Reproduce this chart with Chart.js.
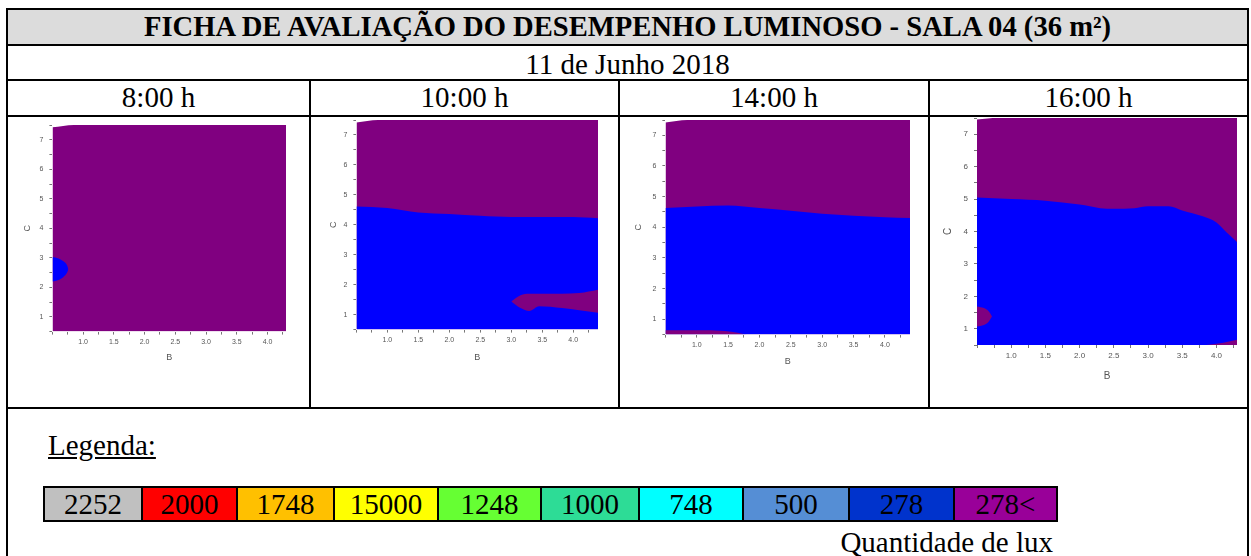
<!DOCTYPE html>
<html lang="pt-BR">
<head>
<meta charset="utf-8">
<title>Ficha de avaliação do desempenho luminoso - Sala 04</title>
<script src="https://cdn.jsdelivr.net/npm/chart.js@4.4.1/dist/chart.umd.min.js"></script>
<style>
  body { margin: 0; width: 1251px; height: 556px; overflow: hidden; background: #fff;
         font-family: "Liberation Serif", "Times New Roman", serif; color: #000; }
  .linha { position: absolute; background: #000; }
  .texto { position: absolute; text-align: center; font-size: 29px; line-height: 35px; white-space: nowrap; }
  #titulo { position: absolute; left: 8px; top: 10px; width: 1239px; height: 34px; background: #dcdcdc;
            text-align: center; font-weight: bold; font-size: 28.6px; line-height: 34px; white-space: nowrap; }
  #legenda-titulo { position: absolute; left: 48px; top: 431px; font-size: 29px; line-height: 29px; text-decoration: underline; }
  .faixa { position: absolute; box-sizing: border-box; top: 486px; height: 36px; border: 2px solid #000;
           font-size: 29px; line-height: 33px; text-align: center; }
  #unidade { position: absolute; right: 198px; top: 528px; font-size: 29px; line-height: 29px; white-space: nowrap; }
  .painel { position: absolute; }
  .painel canvas { display: block; filter: blur(0.4px); }
</style>
</head>
<body>

<div id="titulo">FICHA DE AVALIAÇÃO DO DESEMPENHO LUMINOSO - SALA 04 (36 m²)</div>
<div class="texto" style="left:8px; top:47px; width:1239px;">11 de Junho 2018</div>
<div class="texto" style="left:8px;   top:80px; width:301px;">8:00 h</div>
<div class="texto" style="left:311px; top:80px; width:307px;">10:00 h</div>
<div class="texto" style="left:620px; top:80px; width:308px;">14:00 h</div>
<div class="texto" style="left:930px; top:80px; width:317px;">16:00 h</div>

<!-- grade da ficha -->
<div class="linha" style="left:6px; top:8px; width:1243px; height:2px;"></div>
<div class="linha" style="left:6px; top:8px; width:2px; height:560px;"></div>
<div class="linha" style="left:1247px; top:8px; width:2px; height:560px;"></div>
<div class="linha" style="left:6px; top:44px; width:1243px; height:2px;"></div>
<div class="linha" style="left:6px; top:79px; width:1243px; height:2px;"></div>
<div class="linha" style="left:6px; top:115px; width:1243px; height:2px;"></div>
<div class="linha" style="left:6px; top:407px; width:1243px; height:2px;"></div>
<div class="linha" style="left:309px; top:80px; width:2px; height:328px;"></div>
<div class="linha" style="left:618px; top:80px; width:2px; height:328px;"></div>
<div class="linha" style="left:928px; top:80px; width:2px; height:328px;"></div>

<div class="painel" id="p08"><canvas id="g08"></canvas></div>
<div class="painel" id="p10"><canvas id="g10"></canvas></div>
<div class="painel" id="p14"><canvas id="g14"></canvas></div>
<div class="painel" id="p16"><canvas id="g16"></canvas></div>

<div id="legenda-titulo">Legenda:</div>
<div id="faixas"></div>
<div id="unidade">Quantidade de lux</div>

<script>
// faixas de iluminância (lux) da legenda
const faixasLux = ["2252", "2000", "1748", "15000", "1248", "1000", "748", "500", "278", "278<"];
const coresFaixas = ["#c0c0c0", "#ff0000", "#ffc000", "#ffff00", "#66ff33", "#2ddc96", "#00ffff", "#558ed5", "#0033cc", "#990099"];
// bordas esquerdas das caixas da legenda (a última é o fim)
const bordasFaixas = [43, 141, 236, 333, 437, 540, 638, 742, 848, 953, 1056];

// marcas dos eixos (B e C, em metros)
const marcasB = [1.0, 1.5, 2.0, 2.5, 3.0, 3.5, 4.0];
const marcasC = [1, 2, 3, 4, 5, 6, 7];

// 8:00 h
const topo08B = [0.5, 0.85, 4.3];
const topo08C = [7.42, 7.5, 7.5];
const mancha08B = [0.5, 0.6, 0.68, 0.74, 0.76];
const mancha08Inf = [2.2, 2.25, 2.35, 2.5, 2.62];
const mancha08Sup = [3.03, 2.98, 2.88, 2.74, 2.62];

// 10:00 h
const topo10B = [0.5, 0.85, 4.4];
const topo10C = [7.42, 7.5, 7.5];
const limite10B = [0.5, 1.0, 1.5, 2.0, 2.5, 3.0, 3.5, 4.0, 4.4];
const limite10C = [4.61, 4.56, 4.41, 4.36, 4.3, 4.26, 4.26, 4.26, 4.22];
const ilha10B = [3.0, 3.15, 3.29, 3.45, 3.82, 4.1, 4.4];
const ilha10Inf = [1.44, 1.22, 1.12, 1.28, 1.22, 1.15, 1.06];
const ilha10Sup = [1.44, 1.65, 1.7, 1.7, 1.7, 1.72, 1.83];

// 14:00 h
const topo14B = [0.5, 0.85, 4.4];
const topo14C = [7.42, 7.5, 7.5];
const limite14B = [0.5, 1.0, 1.5, 2.0, 2.5, 3.0, 3.5, 4.0, 4.4];
const limite14C = [4.63, 4.68, 4.71, 4.63, 4.54, 4.44, 4.38, 4.33, 4.3];
const faixa14B = [0.5, 1.0, 1.45, 1.65, 1.8];
const faixa14C = [0.64, 0.64, 0.62, 0.56, 0.5];

// 16:00 h
const topo16B = [0.5, 0.9, 4.3];
const topo16C = [7.45, 7.52, 7.52];
const limite16B = [0.5, 1.0, 1.5, 2.0, 2.3, 2.5, 2.8, 3.0, 3.3, 3.5, 3.8, 4.0, 4.15, 4.3];
const limite16C = [5.05, 5.0, 4.95, 4.83, 4.72, 4.7, 4.72, 4.78, 4.78, 4.65, 4.47, 4.28, 3.97, 3.68];
const mancha16B = [0.5, 0.6, 0.67, 0.72];
const mancha16Inf = [1.07, 1.12, 1.22, 1.38];
const mancha16Sup = [1.69, 1.64, 1.54, 1.38];
const canto16B = [3.85, 4.1, 4.3];
const canto16C = [0.5, 0.57, 0.66];

const ROXO = "#800080";
const AZUL = "#0000ff";

// legenda de cores
const faixas = document.getElementById("faixas");
faixasLux.forEach((f, i) => {
    const d = document.createElement("div");
    d.className = "faixa";
    d.style.left = bordasFaixas[i] + "px";
    d.style.width = (bordasFaixas[i + 1] - bordasFaixas[i] + 2) + "px";
    d.style.background = coresFaixas[i];
    d.textContent = f;
    faixas.appendChild(d);
});

function pontos(bs, cs) {
    return bs.map((b, i) => ({x: b, y: cs[i]}));
}

function area(bs, cs, cor, ordem, fill) {
    return {
        data: pontos(bs, cs), backgroundColor: cor, borderWidth: 0, pointRadius: 0,
        fill: fill === undefined ? "start" : fill, order: ordem, cubicInterpolationMode: "monotone"
    };
}

function ehMarca(lista, v) {
    return lista.some(m => Math.abs(m - v) < 1e-6);
}

function criarPainel(id, cfg, datasets) {
    const fonteTit = cfg.fonte + 2;
    const meia = fonteTit * 1.2 / 2;
    const yw = cfg.dC + meia;
    const xh = cfg.dB + meia;
    const esq = cfg.area[0] - yw;
    const w = cfg.area[2] - esq;
    const h = cfg.area[3] - cfg.area[1] + xh;

    const box = document.getElementById("p" + id);
    box.style.left = esq + "px";
    box.style.top = cfg.area[1] + "px";
    const cv = document.getElementById("g" + id);
    cv.width = Math.round(w);
    cv.height = Math.round(h);

    const grade = { display: true, drawOnChartArea: false, drawTicks: true, tickLength: 3, color: "#777" };
    new Chart(cv, {
        type: "line",
        data: { datasets: datasets },
        options: {
            responsive: false,
            animation: false,
            events: [],
            layout: { autoPadding: false, padding: 0 },
            plugins: { legend: { display: false }, tooltip: { enabled: false } },
            scales: {
                x: {
                    type: "linear", min: 0.5, max: cfg.xMax,
                    grid: grade, border: { display: false },
                    ticks: {
                        stepSize: 0.25, includeBounds: false, autoSkip: false, maxRotation: 0, padding: 3,
                        color: "#555", font: { family: "Liberation Sans", size: cfg.fonte },
                        callback: v => ehMarca(marcasB, v) ? v.toFixed(1) : ""
                    },
                    title: { display: true, text: "B", padding: 0, color: "#555",
                             font: { family: "Liberation Sans", size: fonteTit } },
                    afterFit: s => { s.height = xh; s.paddingLeft = 0; s.paddingRight = 0; }
                },
                y: {
                    type: "linear", min: 0.5, max: 7.5,
                    grid: grade, border: { display: false },
                    ticks: {
                        stepSize: 0.5, includeBounds: false, autoSkip: false, padding: 6,
                        color: "#555", font: { family: "Liberation Sans", size: cfg.fonte },
                        callback: v => ehMarca(marcasC, v) ? String(v) : ""
                    },
                    title: { display: true, text: "C", padding: 0, color: "#555",
                             font: { family: "Liberation Sans", size: fonteTit } },
                    // sem folga extra em cima: a área útil começa no topo do canvas
                    afterFit: s => { s.width = yw; s.paddingTop = 0; s.paddingBottom = 0; }
                }
            }
        }
    });
}

criarPainel("08", { area: [52, 125, 286, 332], xMax: 4.3, dB: 26, dC: 25, fonte: 7 }, [
    area(topo08B, topo08C, ROXO, 5),
    area(mancha08B, mancha08Inf, "rgba(0,0,0,0)", 1, false),
    area(mancha08B, mancha08Sup, AZUL, 1, "-1")
]);

criarPainel("10", { area: [356, 120, 598, 330], xMax: 4.4, dB: 28, dC: 23, fonte: 7 }, [
    area(topo10B, topo10C, ROXO, 5),
    area(limite10B, limite10C, AZUL, 4),
    area(ilha10B, ilha10Inf, "rgba(0,0,0,0)", 1, false),
    area(ilha10B, ilha10Sup, ROXO, 1, "-1")
]);

criarPainel("14", { area: [665, 120, 910, 335], xMax: 4.4, dB: 27, dC: 27, fonte: 7 }, [
    area(topo14B, topo14C, ROXO, 5),
    area(limite14B, limite14C, AZUL, 4),
    area(faixa14B, faixa14C, ROXO, 2)
]);

criarPainel("16", { area: [977, 118, 1237, 345], xMax: 4.3, dB: 31, dC: 29, fonte: 8 }, [
    area(topo16B, topo16C, ROXO, 5),
    area(limite16B, limite16C, AZUL, 4),
    area(canto16B, canto16C, ROXO, 2),
    area(mancha16B, mancha16Inf, "rgba(0,0,0,0)", 1, false),
    area(mancha16B, mancha16Sup, ROXO, 1, "-1")
]);
</script>
</body>
</html>
